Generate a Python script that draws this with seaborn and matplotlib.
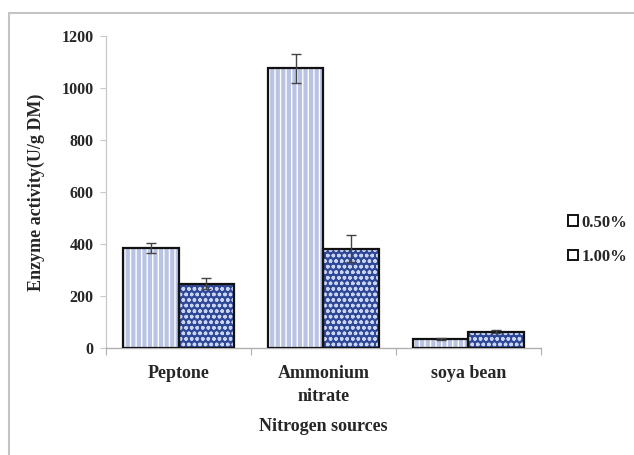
import matplotlib
matplotlib.use("Agg")
import matplotlib.pyplot as plt
from matplotlib.patches import Rectangle, Patch
import seaborn as sns
import pandas as pd

# Data: enzyme activity by nitrogen source and concentration
sources = ["Peptone", "Ammonium\nnitrate", "soya bean"]
levels = ["0.50%", "1.00%"]
activity_050 = [385, 1075, 35]
activity_100 = [248, 382, 62]
error_050 = [20, 55, 4]
error_100 = [22, 52, 6]

df = pd.DataFrame({
    "source": sources * 2,
    "level": [levels[0]] * 3 + [levels[1]] * 3,
    "activity": activity_050 + activity_100,
    "err": error_050 + error_100,
})

sns.set_style("white")
plt.rcParams["font.family"] = ["Liberation Serif", "DejaVu Serif"]
plt.rcParams["font.weight"] = "bold"
plt.rcParams["hatch.linewidth"] = 1.0

fig = plt.figure(figsize=(6.34, 4.55), dpi=100)
ax = fig.add_axes([0.1672, 0.2352, 0.6861, 0.6857])

styles = {
    "0.50%": dict(face="#b9c3e3", hatch="|||", hcolor="#ffffff"),
    "1.00%": dict(face="#2e4796", hatch="ooo", hcolor="#c9d4f2"),
}

sns.barplot(data=df, x="source", y="activity", hue="level", order=sources,
            hue_order=levels, width=0.77, errorbar=None, legend=False,
            palette=[styles[l]["face"] for l in levels], ax=ax, saturation=1)

# Style patches: hatch in its own colour, then a black outline on top
for container, lvl in zip(ax.containers, levels):
    st = styles[lvl]
    for bar in container:
        bar.set_hatch(st["hatch"])
        bar.set_edgecolor(st["hcolor"])
        bar.set_linewidth(0)
        ax.add_patch(Rectangle(bar.get_xy(), bar.get_width(), bar.get_height(),
                               fill=False, edgecolor="#111111", linewidth=1.6,
                               zorder=3))

# Error bars centred on each bar
for container, lvl in zip(ax.containers, levels):
    sub = df[df["level"] == lvl].set_index("source").loc[sources]
    xs = [b.get_x() + b.get_width() / 2 for b in container]
    ax.errorbar(xs, sub["activity"], yerr=sub["err"], fmt="none",
                ecolor="#444444", elinewidth=1.0, capsize=3.5, capthick=1.0,
                zorder=4)

ax.set_ylim(0, 1200)
ax.set_xlim(-0.5, 2.5)
ax.set_yticks(range(0, 1201, 200))
ax.set_xticks([-0.5, 0.5, 1.5, 2.5], minor=True)

for s in ["top", "right"]:
    ax.spines[s].set_visible(False)
ax.spines["left"].set_color("#c8c8c8")
ax.spines["bottom"].set_color("#b0b0b0")
ax.spines["left"].set_linewidth(0.9)
ax.spines["bottom"].set_linewidth(1.0)

ax.tick_params(axis="y", which="major", direction="out", length=4, width=0.8,
               color="#c8c8c8", left=True, pad=5, labelsize=11.5)
ax.tick_params(axis="x", which="major", length=0, pad=12, labelsize=13)
ax.tick_params(axis="x", which="minor", direction="out", length=5, width=0.8,
               color="#b0b0b0", bottom=True)
for lab in ax.get_xticklabels():
    lab.set_linespacing(1.45)
for lab in ax.get_xticklabels() + ax.get_yticklabels():
    lab.set_fontweight("bold")

ax.set_xlabel("Nitrogen sources", fontsize=13, fontweight="bold", labelpad=10)
ax.set_ylabel("Enzyme activity(U/g DM)", fontsize=13, fontweight="bold",
              labelpad=12)

handles = [Patch(facecolor="white", edgecolor="#111111", linewidth=1.4)
           for _ in levels]
fig.legend(handles, levels, loc="center left", bbox_to_anchor=(0.872, 0.473),
           frameon=False, prop={"weight": "bold", "size": 12},
           handlelength=0.6, handleheight=0.6, handletextpad=0.2,
           labelspacing=1.1)

# Light frame around the chart area
fig.add_artist(Rectangle((9 / 634, -0.05), 1.1, 1 - 13 / 455 + 0.05,
                         transform=fig.transFigure, fill=False,
                         edgecolor="#c4c4c4", linewidth=1.5))

fig.savefig("out.png", dpi=100)
